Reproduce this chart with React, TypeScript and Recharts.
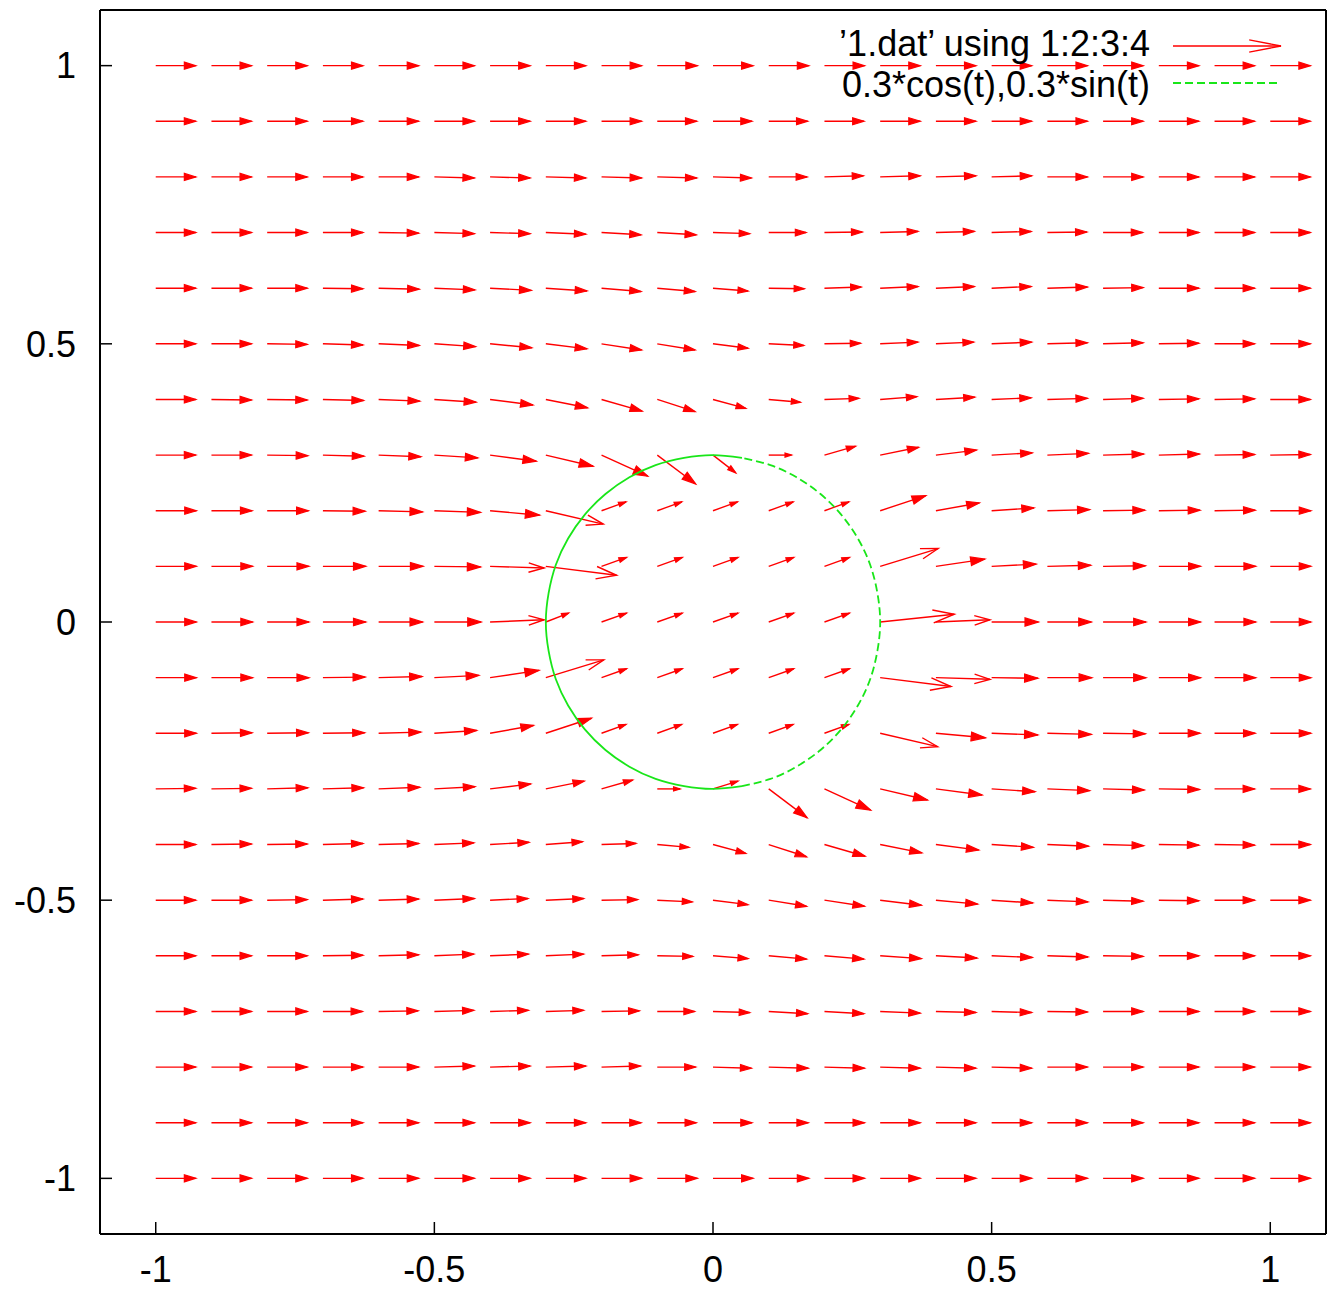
import { ScatterChart, Scatter, XAxis, YAxis, ReferenceLine, Legend } from 'recharts';

// grid of vector tails
const gridX = [-1, -0.9, -0.8, -0.7, -0.6, -0.5, -0.4, -0.3, -0.2, -0.1, 0, 0.1, 0.2, 0.3, 0.4, 0.5, 0.6, 0.7, 0.8, 0.9, 1];
const gridY = [1, 0.9, 0.8, 0.7, 0.6, 0.5, 0.4, 0.3, 0.2, 0.1, 0, -0.1, -0.2, -0.3, -0.4, -0.5, -0.6, -0.7, -0.8, -0.9, -1];

// column 3 of 1.dat (dx), one row per gridY value
const DX = [
  [.072, .072, .072, .072, .072, .072, .072, .072, .072, .072, .072, .072, .072, .072, .072, .072, .072, .072, .072, .072, .072], // 1.0
  [.072, .072, .072, .072, .072, .072, .072, .072, .072, .071, .070, .070, .071, .072, .072, .072, .072, .072, .072, .072, .072], // 0.9
  [.072, .072, .072, .072, .072, .072, .072, .072, .072, .071, .069, .069, .070, .072, .072, .072, .072, .072, .072, .072, .072], // 0.8
  [.072, .072, .072, .072, .072, .072, .072, .072, .071, .070, .066, .067, .068, .068, .069, .071, .071, .071, .072, .072, .072], // 0.7
  [.072, .072, .072, .072, .073, .073, .074, .074, .071, .068, .063, .064, .066, .068, .069, .071, .072, .072, .072, .072, .072], // 0.6
  [.072, .072, .072, .072, .073, .074, .075, .074, .072, .068, .063, .063, .065, .068, .068, .072, .072, .072, .072, .072, .072], // 0.5
  [.072, .072, .072, .073, .074, .075, .077, .075, .073, .068, .059, .057, .062, .066, .070, .071, .072, .072, .072, .072, .072], // 0.4
  [.072, .072, .073, .074, .076, .078, .083, .085, .083, .069, .041, .041, .056, .069, .073, .073, .074, .073, .073, .072, .072], // 0.3
  [.073, .073, .074, .076, .079, .083, .089, .103, .044, .044, .044, .044, .044, .082, .078, .076, .076, .075, .074, .073, .073], // 0.2
  [.073, .074, .075, .077, .080, .083, .097, .127, .045, .045, .045, .045, .045, .104, .088, .080, .078, .076, .075, .074, .073], // 0.1
  [.073, .074, .075, .077, .079, .084, .097, .041, .045, .045, .045, .045, .045, .133, .097, .084, .079, .077, .075, .074, .073], // 0
  [.073, .074, .075, .076, .078, .080, .088, .104, .045, .045, .045, .045, .045, .127, .097, .083, .080, .077, .075, .074, .073], // -0.1
  [.073, .073, .074, .075, .076, .076, .078, .082, .044, .044, .044, .044, .044, .103, .089, .083, .079, .076, .074, .073, .073], // -0.2
  [.072, .072, .073, .073, .074, .073, .073, .069, .056, .041, .045, .069, .083, .085, .083, .078, .076, .074, .073, .072, .072], // -0.3
  [.072, .072, .072, .072, .072, .071, .070, .066, .062, .057, .059, .068, .073, .075, .077, .075, .074, .073, .072, .072, .072], // -0.4
  [.072, .072, .072, .072, .072, .072, .068, .068, .065, .063, .063, .068, .072, .074, .075, .074, .073, .072, .072, .072, .072], // -0.5
  [.072, .072, .072, .072, .072, .071, .069, .068, .066, .064, .063, .068, .071, .074, .074, .073, .073, .072, .072, .072, .072], // -0.6
  [.072, .072, .072, .071, .071, .071, .069, .068, .068, .067, .066, .070, .071, .072, .072, .072, .072, .072, .072, .072, .072], // -0.7
  [.072, .072, .072, .072, .072, .072, .072, .072, .070, .069, .069, .071, .072, .072, .072, .072, .072, .072, .072, .072, .072], // -0.8
  [.072, .072, .072, .072, .072, .072, .072, .072, .071, .070, .070, .071, .072, .072, .072, .072, .072, .072, .072, .072, .072], // -0.9
  [.072, .072, .072, .072, .072, .072, .072, .072, .072, .072, .072, .072, .072, .072, .072, .072, .072, .072, .072, .072, .072], // -1.0
];

// column 4 of 1.dat (dy)
const DY = [
  [0, 0, 0, 0, 0, 0, 0, 0, 0, 0, 0, 0, 0, 0, 0, 0, 0, 0, 0, 0, 0], // 1.0
  [0, 0, 0, 0, 0, 0, 0, 0, 0, 0, 0, 0, 0, 0, 0, 0, 0, 0, 0, 0, 0], // 0.9
  [0, 0, 0, 0, 0, -.002, -.002, -.002, -.002, -.002, -.002, 0, .002, .002, .002, .002, 0, 0, 0, 0, 0], // 0.8
  [0, 0, 0, 0, -.001, -.002, -.002, -.003, -.004, -.004, -.002, 0, .001, .002, .002, .002, .001, 0, 0, 0, 0], // 0.7
  [0, 0, 0, -.001, -.002, -.003, -.004, -.005, -.006, -.006, -.005, -.001, .002, .003, .003, .003, .002, .001, 0, 0, 0], // 0.6
  [0, 0, -.001, -.002, -.003, -.005, -.007, -.009, -.011, -.011, -.008, -.003, .001, .003, .003, .003, .002, .002, .001, 0, 0], // 0.5
  [0, -.001, -.001, -.002, -.003, -.005, -.010, -.015, -.021, -.022, -.016, -.005, .002, .005, .004, .003, .002, .002, .001, .001, 0], // 0.4
  [0, 0, -.001, -.002, -.003, -.005, -.011, -.020, -.038, -.052, -.032, 0, .016, .014, .009, .004, .003, .002, .002, .001, .001], // 0.3
  [0, 0, 0, -.001, -.002, -.003, -.008, -.024, .016, .016, .016, .016, .016, .027, .014, .005, .002, .001, .001, .001, 0], // 0.2
  [0, 0, 0, 0, 0, -.001, -.003, -.016, .016, .016, .016, .016, .016, .032, .013, .004, .002, .001, 0, 0, 0], // 0.1
  [0, 0, 0, 0, 0, 0, .004, .016, .016, .016, .016, .016, .016, .014, .004, 0, 0, 0, 0, 0, 0], // 0
  [0, 0, 0, .001, .002, .004, .013, .032, .016, .016, .016, .016, .016, -.016, -.003, -.001, 0, 0, 0, 0, 0], // -0.1
  [0, .001, .001, .001, .002, .005, .014, .027, .016, .016, .016, .016, .016, -.024, -.008, -.003, -.002, -.001, 0, 0, 0], // -0.2
  [.001, .001, .002, .002, .003, .004, .009, .014, .016, 0, .014, -.052, -.038, -.020, -.011, -.005, -.003, -.002, -.001, 0, 0], // -0.3
  [0, .001, .001, .002, .002, .003, .004, .005, .002, -.005, -.016, -.022, -.021, -.015, -.010, -.005, -.003, -.002, -.001, -.001, 0], // -0.4
  [0, 0, .001, .002, .002, .003, .003, .003, .001, -.003, -.008, -.011, -.011, -.009, -.007, -.005, -.003, -.002, -.001, 0, 0], // -0.5
  [0, 0, 0, .001, .002, .003, .003, .003, .002, -.001, -.005, -.006, -.006, -.005, -.004, -.003, -.002, -.001, 0, 0, 0], // -0.6
  [0, 0, 0, 0, .001, .002, .002, .002, .001, 0, -.002, -.004, -.004, -.003, -.002, -.002, -.001, 0, 0, 0, 0], // -0.7
  [0, 0, 0, 0, 0, .002, .002, .002, .002, 0, -.002, -.002, -.002, -.002, -.002, -.002, 0, 0, 0, 0, 0], // -0.8
  [0, 0, 0, 0, 0, 0, 0, 0, 0, 0, 0, 0, 0, 0, 0, 0, 0, 0, 0, 0, 0], // -0.9
  [0, 0, 0, 0, 0, 0, 0, 0, 0, 0, 0, 0, 0, 0, 0, 0, 0, 0, 0, 0, 0], // -1.0
];

// r = 0.3 circle, right part is drawn dashed, left part solid
const circleDashed = [
  { x: 0.052, y: -0.295 }, { x: 0.103, y: -0.282 }, { x: 0.150, y: -0.260 }, { x: 0.193, y: -0.230 },
  { x: 0.230, y: -0.193 }, { x: 0.260, y: -0.150 }, { x: 0.282, y: -0.103 }, { x: 0.295, y: -0.052 },
  { x: 0.300, y: 0 }, { x: 0.295, y: 0.052 }, { x: 0.282, y: 0.103 }, { x: 0.260, y: 0.150 },
  { x: 0.230, y: 0.193 }, { x: 0.193, y: 0.230 }, { x: 0.150, y: 0.260 }, { x: 0.103, y: 0.282 },
  { x: 0.052, y: 0.295 },
];
const circleSolid = [
  { x: 0.052, y: 0.295 }, { x: 0, y: 0.300 }, { x: -0.052, y: 0.295 }, { x: -0.103, y: 0.282 },
  { x: -0.150, y: 0.260 }, { x: -0.193, y: 0.230 }, { x: -0.230, y: 0.193 }, { x: -0.260, y: 0.150 },
  { x: -0.282, y: 0.103 }, { x: -0.295, y: 0.052 }, { x: -0.300, y: 0 }, { x: -0.295, y: -0.052 },
  { x: -0.282, y: -0.103 }, { x: -0.260, y: -0.150 }, { x: -0.230, y: -0.193 }, { x: -0.193, y: -0.230 },
  { x: -0.150, y: -0.260 }, { x: -0.103, y: -0.282 }, { x: -0.052, y: -0.295 }, { x: 0, y: -0.300 },
  { x: 0.052, y: -0.295 },
];

const axisTicks = [-1, -0.5, 0, 0.5, 1];
const legendLabels = ['\u20191.dat\u2019 using 1:2:3:4', '0.3*cos(t),0.3*sin(t)'];

const FONT = '"Liberation Sans", Arial, sans-serif';
const RED = '#ff0000';
const GREEN = '#19e619';

function arrowHead(x1: number, y1: number, x2: number, y2: number, frac: number, deg: number) {
  const len = Math.hypot(x2 - x1, y2 - y1);
  const h = len * frac;
  const ang = Math.atan2(y2 - y1, x2 - x1);
  const a = (deg * Math.PI) / 180;
  const p1 = `${x2 - h * Math.cos(ang - a)},${y2 - h * Math.sin(ang - a)}`;
  const p2 = `${x2 - h * Math.cos(ang + a)},${y2 - h * Math.sin(ang + a)}`;
  return `${p1} ${x2},${y2} ${p2}`;
}

function Arrow(props: any) {
  const { x1, y1, x2, y2 } = props;
  if ([x1, y1, x2, y2].some((v) => typeof v !== 'number' || isNaN(v))) return <g />;
  const len = Math.hypot(x2 - x1, y2 - y1);
  const pts = arrowHead(x1, y1, x2, y2, 0.3, 17);
  return (
    <g>
      <line x1={x1} y1={y1} x2={x2} y2={y2} stroke={RED} strokeWidth={1.4} />
      {len < 54 ? (
        <polygon points={pts} fill={RED} stroke={RED} strokeWidth={1.2} />
      ) : (
        <polyline points={pts} fill="none" stroke={RED} strokeWidth={1.4} />
      )}
    </g>
  );
}

function LegendBox() {
  return (
    <svg width={1336} height={110} style={{ display: 'block' }}>
      <text x={1150} y={56} textAnchor="end" fontFamily={FONT} fontSize={36} fill="#000">{legendLabels[0]}</text>
      <line x1={1173} y1={46} x2={1281} y2={46} stroke={RED} strokeWidth={1.4} />
      <polyline points={arrowHead(1173, 46, 1281, 46, 0.3, 11)} fill="none" stroke={RED} strokeWidth={1.4} />
      <text x={1150} y={97} textAnchor="end" fontFamily={FONT} fontSize={36} fill="#000">{legendLabels[1]}</text>
      <line x1={1173} y1={83} x2={1281} y2={83} stroke={GREEN} strokeWidth={1.8} strokeDasharray="8 4" />
    </svg>
  );
}

export default function App() {
  const arrows: any[] = [];
  gridY.forEach((y, r) => {
    gridX.forEach((x, c) => {
      arrows.push(
        <ReferenceLine
          key={`a-${r}-${c}`}
          segment={[{ x, y }, { x: x + DX[r][c], y: y + DY[r][c] }]}
          ifOverflow="visible"
          shape={Arrow}
        />
      );
    });
  });

  const tickStyle = { fontSize: 36, fill: '#000', fontFamily: FONT };

  return (
    <div style={{ position: 'absolute', left: 0, top: 0, background: '#fff' }}>
      <ScatterChart width={1336} height={1290} margin={{ top: 0, right: 0, bottom: 0, left: 0 }}>
        <XAxis type="number" dataKey="x" domain={[-1.1, 1.1]} ticks={axisTicks} allowDataOverflow
          height={56} tickSize={-12} tickMargin={34} tick={tickStyle}
          axisLine={{ stroke: '#000', strokeWidth: 2 }} tickLine={{ stroke: '#000', strokeWidth: 1.5 }} />
        <XAxis xAxisId="top" orientation="top" type="number" domain={[-1.1, 1.1]} ticks={axisTicks} allowDataOverflow
          height={10} tickSize={-12} tick={false}
          axisLine={{ stroke: '#000', strokeWidth: 2 }} tickLine={{ stroke: '#000', strokeWidth: 1.5 }} />
        <YAxis type="number" dataKey="y" domain={[-1.1, 1.1]} ticks={axisTicks} allowDataOverflow
          width={100} tickSize={-12} tickMargin={36} tick={tickStyle}
          axisLine={{ stroke: '#000', strokeWidth: 2 }} tickLine={{ stroke: '#000', strokeWidth: 1.5 }} />
        <YAxis yAxisId="right" orientation="right" type="number" domain={[-1.1, 1.1]} ticks={axisTicks} allowDataOverflow
          width={10} tickSize={-12} tick={false}
          axisLine={{ stroke: '#000', strokeWidth: 2 }} tickLine={{ stroke: '#000', strokeWidth: 1.5 }} />
        <Legend content={() => <LegendBox />} layout="horizontal" verticalAlign="middle" align="center"
          wrapperStyle={{ position: 'absolute', left: 0, top: 0, width: 1336, height: 110 }} />
        {arrows}
        <Scatter data={circleSolid} isAnimationActive={false} shape={() => <g />} lineJointType="natural"
          line={{ stroke: GREEN, strokeWidth: 1.8 }} legendType="none" />
        <Scatter data={circleDashed} isAnimationActive={false} shape={() => <g />} lineJointType="natural"
          line={{ stroke: GREEN, strokeWidth: 1.8, strokeDasharray: '8 4' }} legendType="none" />
      </ScatterChart>
    </div>
  );
}
